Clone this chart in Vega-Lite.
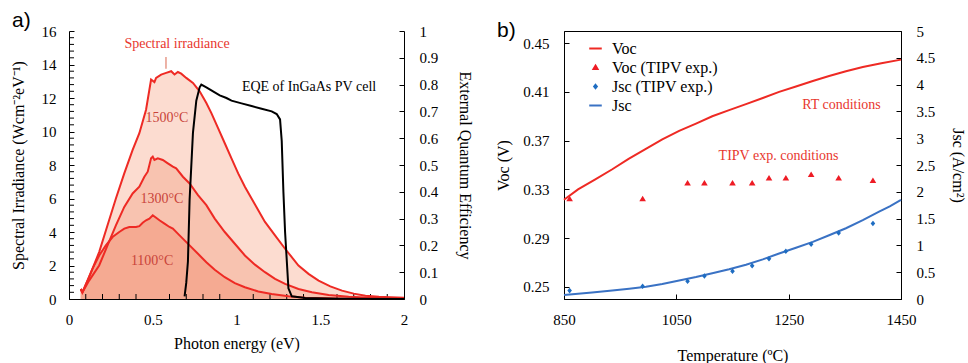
{
  "$schema": "https://vega.github.io/schema/vega-lite/v6.json",
  "padding": {"left": 10, "top": 10, "right": 0, "bottom": 0},
  "background": "white",
  "bounds": "flush",
  "spacing": 160,
  "config": {
    "font": "Liberation Serif",
    "axis": {"grid": false, "domainColor": "#000", "tickColor": "#000", "labelFont": "Liberation Serif", "titleFont": "Liberation Serif", "labelFontSize": 15, "titleFontSize": 16, "titleFontWeight": "normal", "labelColor": "#000", "titleColor": "#000", "tickSize": -5, "labelPadding": 18, "labelOverlap": false, "labelFlush": false, "labelBound": false, "zindex": 1},
    "legend": {"labelFont": "Liberation Serif"}
  },
  "datasets": {
    "irr": [
      {"T": "1500", "E": 0.07, "S": 0.6}, {"T": "1500", "E": 0.08, "S": 0.4}, {"T": "1500", "E": 0.12, "S": 1.3}, {"T": "1500", "E": 0.18, "S": 2.8}, {"T": "1500", "E": 0.23, "S": 4.4}, {"T": "1500", "E": 0.28, "S": 6.0}, {"T": "1500", "E": 0.33, "S": 7.5}, {"T": "1500", "E": 0.38, "S": 8.9}, {"T": "1500", "E": 0.42, "S": 9.9}, {"T": "1500", "E": 0.46, "S": 11.3}, {"T": "1500", "E": 0.49, "S": 13.1}, {"T": "1500", "E": 0.51, "S": 12.95}, {"T": "1500", "E": 0.52, "S": 13.2}, {"T": "1500", "E": 0.55, "S": 13.4}, {"T": "1500", "E": 0.58, "S": 13.5}, {"T": "1500", "E": 0.61, "S": 13.6}, {"T": "1500", "E": 0.63, "S": 13.4}, {"T": "1500", "E": 0.65, "S": 13.55}, {"T": "1500", "E": 0.67, "S": 13.45}, {"T": "1500", "E": 0.70, "S": 13.2}, {"T": "1500", "E": 0.74, "S": 12.9}, {"T": "1500", "E": 0.78, "S": 12.4}, {"T": "1500", "E": 0.82, "S": 11.7}, {"T": "1500", "E": 0.85, "S": 11.1}, {"T": "1500", "E": 0.89, "S": 10.2}, {"T": "1500", "E": 0.93, "S": 9.3}, {"T": "1500", "E": 0.97, "S": 8.4}, {"T": "1500", "E": 1.01, "S": 7.5}, {"T": "1500", "E": 1.05, "S": 6.7}, {"T": "1500", "E": 1.09, "S": 6.0}, {"T": "1500", "E": 1.13, "S": 5.3}, {"T": "1500", "E": 1.17, "S": 4.6}, {"T": "1500", "E": 1.23, "S": 3.8}, {"T": "1500", "E": 1.29, "S": 3.0}, {"T": "1500", "E": 1.37, "S": 2.0}, {"T": "1500", "E": 1.43, "S": 1.5}, {"T": "1500", "E": 1.49, "S": 1.1}, {"T": "1500", "E": 1.56, "S": 0.75}, {"T": "1500", "E": 1.63, "S": 0.5}, {"T": "1500", "E": 1.70, "S": 0.32}, {"T": "1500", "E": 1.77, "S": 0.2}, {"T": "1500", "E": 1.85, "S": 0.13}, {"T": "1500", "E": 1.92, "S": 0.1}, {"T": "1500", "E": 2.0, "S": 0.08},
      {"T": "1300", "E": 0.07, "S": 0.6}, {"T": "1300", "E": 0.08, "S": 0.4}, {"T": "1300", "E": 0.12, "S": 1.1}, {"T": "1300", "E": 0.18, "S": 2.0}, {"T": "1300", "E": 0.23, "S": 3.2}, {"T": "1300", "E": 0.28, "S": 4.4}, {"T": "1300", "E": 0.33, "S": 5.5}, {"T": "1300", "E": 0.38, "S": 6.3}, {"T": "1300", "E": 0.42, "S": 6.7}, {"T": "1300", "E": 0.45, "S": 7.3}, {"T": "1300", "E": 0.47, "S": 7.6}, {"T": "1300", "E": 0.49, "S": 8.4}, {"T": "1300", "E": 0.50, "S": 8.5}, {"T": "1300", "E": 0.51, "S": 8.3}, {"T": "1300", "E": 0.53, "S": 8.4}, {"T": "1300", "E": 0.56, "S": 8.3}, {"T": "1300", "E": 0.59, "S": 8.1}, {"T": "1300", "E": 0.62, "S": 7.9}, {"T": "1300", "E": 0.64, "S": 7.8}, {"T": "1300", "E": 0.68, "S": 7.3}, {"T": "1300", "E": 0.72, "S": 6.9}, {"T": "1300", "E": 0.77, "S": 6.2}, {"T": "1300", "E": 0.82, "S": 5.6}, {"T": "1300", "E": 0.87, "S": 4.8}, {"T": "1300", "E": 0.93, "S": 4.0}, {"T": "1300", "E": 0.99, "S": 3.3}, {"T": "1300", "E": 1.05, "S": 2.6}, {"T": "1300", "E": 1.11, "S": 2.05}, {"T": "1300", "E": 1.17, "S": 1.6}, {"T": "1300", "E": 1.23, "S": 1.2}, {"T": "1300", "E": 1.29, "S": 0.9}, {"T": "1300", "E": 1.37, "S": 0.6}, {"T": "1300", "E": 1.45, "S": 0.4}, {"T": "1300", "E": 1.55, "S": 0.24}, {"T": "1300", "E": 1.67, "S": 0.14}, {"T": "1300", "E": 1.8, "S": 0.07}, {"T": "1300", "E": 2.0, "S": 0.02},
      {"T": "1100", "E": 0.07, "S": 0.6}, {"T": "1100", "E": 0.08, "S": 0.4}, {"T": "1100", "E": 0.11, "S": 1.1}, {"T": "1100", "E": 0.14, "S": 1.8}, {"T": "1100", "E": 0.18, "S": 2.6}, {"T": "1100", "E": 0.22, "S": 3.2}, {"T": "1100", "E": 0.26, "S": 3.7}, {"T": "1100", "E": 0.30, "S": 4.0}, {"T": "1100", "E": 0.33, "S": 4.2}, {"T": "1100", "E": 0.36, "S": 4.3}, {"T": "1100", "E": 0.40, "S": 4.3}, {"T": "1100", "E": 0.42, "S": 4.35}, {"T": "1100", "E": 0.44, "S": 4.55}, {"T": "1100", "E": 0.46, "S": 4.7}, {"T": "1100", "E": 0.48, "S": 4.8}, {"T": "1100", "E": 0.50, "S": 5.0}, {"T": "1100", "E": 0.52, "S": 4.85}, {"T": "1100", "E": 0.54, "S": 4.7}, {"T": "1100", "E": 0.57, "S": 4.5}, {"T": "1100", "E": 0.60, "S": 4.3}, {"T": "1100", "E": 0.62, "S": 4.2}, {"T": "1100", "E": 0.66, "S": 3.8}, {"T": "1100", "E": 0.72, "S": 3.2}, {"T": "1100", "E": 0.77, "S": 2.7}, {"T": "1100", "E": 0.82, "S": 2.2}, {"T": "1100", "E": 0.87, "S": 1.75}, {"T": "1100", "E": 0.93, "S": 1.3}, {"T": "1100", "E": 0.99, "S": 0.95}, {"T": "1100", "E": 1.05, "S": 0.7}, {"T": "1100", "E": 1.13, "S": 0.45}, {"T": "1100", "E": 1.21, "S": 0.3}, {"T": "1100", "E": 1.31, "S": 0.16}, {"T": "1100", "E": 1.41, "S": 0.08}, {"T": "1100", "E": 1.55, "S": 0.04}, {"T": "1100", "E": 1.67, "S": 0.02}, {"T": "1100", "E": 1.8, "S": 0.01}
    ],
    "eqe": [
      {"E": 0.69, "Q": 0.01}, {"E": 0.70, "Q": 0.06}, {"E": 0.71, "Q": 0.14}, {"E": 0.72, "Q": 0.37}, {"E": 0.74, "Q": 0.62}, {"E": 0.76, "Q": 0.74}, {"E": 0.78, "Q": 0.79}, {"E": 0.79, "Q": 0.80}, {"E": 0.82, "Q": 0.79}, {"E": 0.86, "Q": 0.775}, {"E": 0.90, "Q": 0.76}, {"E": 0.94, "Q": 0.75}, {"E": 0.97, "Q": 0.74}, {"E": 1.03, "Q": 0.73}, {"E": 1.09, "Q": 0.72}, {"E": 1.15, "Q": 0.71}, {"E": 1.21, "Q": 0.70}, {"E": 1.24, "Q": 0.69}, {"E": 1.26, "Q": 0.67}, {"E": 1.27, "Q": 0.59}, {"E": 1.28, "Q": 0.40}, {"E": 1.29, "Q": 0.25}, {"E": 1.31, "Q": 0.04}, {"E": 1.33, "Q": 0.01}, {"E": 1.41, "Q": 0.004}, {"E": 1.6, "Q": 0.001}, {"E": 2.0, "Q": 0.0}
    ],
    "minE": [
      {"E": 0.1}, {"E": 0.2}, {"E": 0.3}, {"E": 0.4}, {"E": 0.6}, {"E": 0.7}, {"E": 0.8}, {"E": 0.9}, {"E": 1.1}, {"E": 1.2}, {"E": 1.3}, {"E": 1.4}, {"E": 1.6}, {"E": 1.7}, {"E": 1.8}, {"E": 1.9}
    ],
    "minS": [
      {"S": 0.4}, {"S": 0.8}, {"S": 1.2}, {"S": 1.6}, {"S": 2.4}, {"S": 2.8}, {"S": 3.2}, {"S": 3.6}, {"S": 4.4}, {"S": 4.8}, {"S": 5.2}, {"S": 5.6}, {"S": 6.4}, {"S": 6.8}, {"S": 7.2}, {"S": 7.6}, {"S": 8.4}, {"S": 8.8}, {"S": 9.2}, {"S": 9.6}, {"S": 10.4}, {"S": 10.8}, {"S": 11.2}, {"S": 11.6}, {"S": 12.4}, {"S": 12.8}, {"S": 13.2}, {"S": 13.6}, {"S": 14.4}, {"S": 14.8}, {"S": 15.2}, {"S": 15.6}
    ],
    "labA": [
      {"E": 0.645, "S": 15.25, "txt": "Spectral irradiance", "c": "red"},
      {"E": 0.585, "S": 10.8, "txt": "1500°C", "c": "dark"},
      {"E": 0.555, "S": 5.95, "txt": "1300°C", "c": "dark"},
      {"E": 0.496, "S": 2.26, "txt": "1100°C", "c": "dark"}
    ],
    "voc": [
      {"T": 850, "V": 0.3215}, {"T": 875, "V": 0.330}, {"T": 905, "V": 0.338}, {"T": 936, "V": 0.3465}, {"T": 965, "V": 0.355}, {"T": 995, "V": 0.363}, {"T": 1025, "V": 0.371}, {"T": 1055, "V": 0.378}, {"T": 1085, "V": 0.384}, {"T": 1114, "V": 0.390}, {"T": 1144, "V": 0.395}, {"T": 1174, "V": 0.400}, {"T": 1204, "V": 0.405}, {"T": 1233, "V": 0.410}, {"T": 1263, "V": 0.4145}, {"T": 1293, "V": 0.419}, {"T": 1322, "V": 0.423}, {"T": 1352, "V": 0.427}, {"T": 1382, "V": 0.4305}, {"T": 1415, "V": 0.4335}, {"T": 1450, "V": 0.4365}
    ],
    "jsc": [
      {"T": 850, "J": 0.075}, {"T": 900, "J": 0.12}, {"T": 936, "J": 0.157}, {"T": 966, "J": 0.19}, {"T": 996, "J": 0.23}, {"T": 1025, "J": 0.28}, {"T": 1055, "J": 0.345}, {"T": 1085, "J": 0.41}, {"T": 1114, "J": 0.48}, {"T": 1144, "J": 0.555}, {"T": 1174, "J": 0.64}, {"T": 1204, "J": 0.74}, {"T": 1233, "J": 0.85}, {"T": 1263, "J": 0.955}, {"T": 1293, "J": 1.065}, {"T": 1322, "J": 1.19}, {"T": 1352, "J": 1.32}, {"T": 1382, "J": 1.47}, {"T": 1411, "J": 1.63}, {"T": 1430, "J": 1.73}, {"T": 1450, "J": 1.85}
    ],
    "vocp": [
      {"T": 860, "V": 0.322, "series": "Voc (TIPV exp.)"}, {"T": 990, "V": 0.322, "series": "Voc (TIPV exp.)"}, {"T": 1070, "V": 0.335, "series": "Voc (TIPV exp.)"}, {"T": 1100, "V": 0.335, "series": "Voc (TIPV exp.)"}, {"T": 1150, "V": 0.335, "series": "Voc (TIPV exp.)"}, {"T": 1185, "V": 0.335, "series": "Voc (TIPV exp.)"}, {"T": 1215, "V": 0.339, "series": "Voc (TIPV exp.)"}, {"T": 1245, "V": 0.339, "series": "Voc (TIPV exp.)"}, {"T": 1290, "V": 0.342, "series": "Voc (TIPV exp.)"}, {"T": 1339, "V": 0.339, "series": "Voc (TIPV exp.)"}, {"T": 1400, "V": 0.337, "series": "Voc (TIPV exp.)"}
    ],
    "jscp": [
      {"T": 860, "J": 0.157, "series": "Jsc (TIPV exp.)"}, {"T": 990, "J": 0.238, "series": "Jsc (TIPV exp.)"}, {"T": 1070, "J": 0.33, "series": "Jsc (TIPV exp.)"}, {"T": 1100, "J": 0.43, "series": "Jsc (TIPV exp.)"}, {"T": 1150, "J": 0.52, "series": "Jsc (TIPV exp.)"}, {"T": 1185, "J": 0.62, "series": "Jsc (TIPV exp.)"}, {"T": 1215, "J": 0.75, "series": "Jsc (TIPV exp.)"}, {"T": 1245, "J": 0.89, "series": "Jsc (TIPV exp.)"}, {"T": 1290, "J": 1.02, "series": "Jsc (TIPV exp.)"}, {"T": 1339, "J": 1.23, "series": "Jsc (TIPV exp.)"}, {"T": 1400, "J": 1.41, "series": "Jsc (TIPV exp.)"}
    ],
    "labB": [
      {"T": 1344, "V": 0.399, "txt": "RT conditions"},
      {"T": 1232, "V": 0.357, "txt": "TIPV exp. conditions"}
    ]
  },
  "hconcat": [
    {
      "width": 335,
      "height": 268,
      "view": {"stroke": null},
      "title": {"text": "a)", "anchor": "start", "frame": "group", "dx": -57, "offset": -7, "font": "Liberation Sans", "fontSize": 21, "fontWeight": "normal", "color": "#000"},
      "layer": [
        {
          "layer": [
            {"data": {"name": "irr"}, "transform": [{"filter": "datum.T == '1500'"}], "mark": {"type": "area", "color": "#fcdcd0", "opacity": 1}, "encoding": {"x": {"field": "E", "type": "quantitative", "scale": {"domain": [0, 2]}, "axis": {"values": [0, 0.5, 1, 1.5, 2], "format": "~g", "title": "Photon energy (eV)", "titlePadding": 8, "labelOverlap": false}}, "y": {"field": "S", "type": "quantitative", "scale": {"domain": [0, 16]}, "axis": null}}},
            {"data": {"name": "irr"}, "transform": [{"filter": "datum.T == '1300'"}], "mark": {"type": "area", "color": "#f8c3b0", "opacity": 1}, "encoding": {"x": {"field": "E", "type": "quantitative"}, "y": {"field": "S", "type": "quantitative", "axis": null}}},
            {"data": {"name": "irr"}, "transform": [{"filter": "datum.T == '1100'"}], "mark": {"type": "area", "color": "#f5aa92", "opacity": 1}, "encoding": {"x": {"field": "E", "type": "quantitative"}, "y": {"field": "S", "type": "quantitative", "axis": null}}},
            {"data": {"name": "minE"}, "mark": {"type": "tick", "orient": "vertical", "size": 5, "thickness": 1, "color": "#000", "opacity": 1}, "encoding": {"x": {"field": "E", "type": "quantitative"}, "y": {"datum": 0.15, "type": "quantitative", "axis": null}}},
            {"data": {"name": "irr"}, "mark": {"type": "line", "color": "#ee2a24", "strokeWidth": 2}, "encoding": {"x": {"field": "E", "type": "quantitative"}, "y": {"field": "S", "type": "quantitative", "axis": null}, "detail": {"field": "T"}}},
            {"data": {"values": [{"E": 0.579, "S": 13.75, "S2": 14.45}]}, "mark": {"type": "rule", "color": "#e0806c", "strokeWidth": 1.2}, "encoding": {"x": {"field": "E", "type": "quantitative"}, "y": {"field": "S", "type": "quantitative", "axis": null}, "y2": {"field": "S2"}}},
            {"data": {"name": "labA"}, "mark": {"type": "text", "font": "Liberation Serif", "fontSize": 14}, "encoding": {"x": {"field": "E", "type": "quantitative"}, "y": {"field": "S", "type": "quantitative", "axis": null}, "text": {"field": "txt"}, "color": {"field": "c", "type": "nominal", "scale": {"domain": ["red", "dark"], "range": ["#e8372e", "#c9443a"]}, "legend": null}}},
            {"data": {"values": [{"E": 1.433, "S": 12.68, "txt": "EQE of InGaAs PV cell"}]}, "mark": {"type": "text", "font": "Liberation Serif", "fontSize": 14, "color": "#000"}, "encoding": {"x": {"field": "E", "type": "quantitative"}, "y": {"field": "S", "type": "quantitative", "axis": null}, "text": {"field": "txt"}}}
          ]
        },
        {
          "data": {"name": "eqe"},
          "mark": {"type": "line", "color": "#000", "strokeWidth": 2},
          "encoding": {"x": {"field": "E", "type": "quantitative"}, "y": {"field": "Q", "type": "quantitative", "scale": {"domain": [0, 1]}, "axis": {"orient": "right", "values": [0, 0.1, 0.2, 0.3, 0.4, 0.5, 0.6, 0.7, 0.8, 0.9, 1], "format": "~g", "labelPadding": 20, "title": "External Quantum Efficiency", "titlePadding": 19, "labelOverlap": false}}}
        },
        {
          "data": {"name": "minS"},
          "mark": {"type": "tick", "orient": "horizontal", "size": 5, "thickness": 1, "color": "#000", "opacity": 1},
          "encoding": {"x": {"datum": 0.015, "type": "quantitative"}, "y": {"field": "S", "type": "quantitative", "scale": {"domain": [0, 16]}, "axis": {"orient": "left", "values": [0, 2, 4, 6, 8, 10, 12, 14, 16], "format": "d", "labelPadding": 18, "title": "Spectral Irradiance (Wcm⁻²eV⁻¹)", "titlePadding": 15, "labelOverlap": false}}}
        }
      ],
      "resolve": {"scale": {"y": "independent"}}
    },
    {
      "width": 337,
      "height": 268,
      "view": {"stroke": "#000"},
      "title": {"text": "b)", "anchor": "start", "frame": "group", "dx": -67, "offset": -17, "font": "Liberation Sans", "fontSize": 21, "fontWeight": "normal", "color": "#000"},
      "layer": [
        {
          "layer": [
            {"data": {"name": "voc"}, "mark": {"type": "line", "color": "#ee2a24", "strokeWidth": 2}, "encoding": {"x": {"field": "T", "type": "quantitative", "scale": {"domain": [850, 1450]}, "axis": {"values": [850, 1050, 1250, 1450], "format": "d", "title": "Temperature (ºC)", "titlePadding": 20, "labelOverlap": false}}, "y": {"field": "V", "type": "quantitative", "scale": {"domain": [0.25, 0.45]}, "axis": {"values": [0.25, 0.29, 0.33, 0.37, 0.41, 0.45], "format": ".2f", "labelPadding": 20, "title": "Voc (V)", "titlePadding": 11, "labelOverlap": false}}}},
            {"data": {"name": "vocp"}, "mark": {"type": "point", "filled": true, "opacity": 1, "size": 361, "strokeWidth": 1.5}, "encoding": {"x": {"field": "T", "type": "quantitative"}, "y": {"field": "V", "type": "quantitative", "axis": {"values": [0.25, 0.29, 0.33, 0.37, 0.41, 0.45], "format": ".2f", "labelPadding": 20, "title": "Voc (V)", "titlePadding": 11, "labelOverlap": false}},
              "fill": {"field": "series", "type": "nominal", "scale": {"domain": ["Voc", "Voc (TIPV exp.)", "Jsc (TIPV exp.)", "Jsc"], "range": ["transparent", "#ee1c25", "#1f6dc2", "transparent"]}, "legend": {"title": null, "orient": "none", "legendX": 516, "legendY": 7, "padding": 0, "rowPadding": 0, "labelFontSize": 16, "labelColor": "#000", "labelOffset": 6, "symbolSize": 361, "symbolStrokeWidth": 2, "symbolOpacity": 1}},
              "stroke": {"field": "series", "type": "nominal", "scale": {"domain": ["Voc", "Voc (TIPV exp.)", "Jsc (TIPV exp.)", "Jsc"], "range": ["#ee2a24", "#ee1c25", "#1f6dc2", "#3a72c4"]}, "legend": {"title": null, "orient": "none", "legendX": 516, "legendY": 7, "padding": 0, "rowPadding": 0, "labelFontSize": 16, "labelColor": "#000", "labelOffset": 6, "symbolSize": 361, "symbolStrokeWidth": 2, "symbolOpacity": 1}},
              "shape": {"field": "series", "type": "nominal", "scale": {"domain": ["Voc", "Voc (TIPV exp.)", "Jsc (TIPV exp.)", "Jsc"], "range": ["M-0.66,0L0.66,0", "M0,-0.2L0.21,0.15L-0.21,0.15Z", "M0,-0.17L0.14,0L0,0.17L-0.14,0Z", "M-0.66,0L0.66,0"]}, "legend": {"title": null, "orient": "none", "legendX": 516, "legendY": 7, "padding": 0, "rowPadding": 0, "labelFontSize": 16, "labelColor": "#000", "labelOffset": 6, "symbolSize": 361, "symbolStrokeWidth": 2, "symbolOpacity": 1}}}},
            {"data": {"name": "labB"}, "mark": {"type": "text", "font": "Liberation Serif", "fontSize": 14, "color": "#e8372e"}, "encoding": {"x": {"field": "T", "type": "quantitative"}, "y": {"field": "V", "type": "quantitative", "axis": {"values": [0.25, 0.29, 0.33, 0.37, 0.41, 0.45], "format": ".2f", "labelPadding": 20, "title": "Voc (V)", "titlePadding": 11, "labelOverlap": false}}, "text": {"field": "txt"}}}
          ]
        },
        {
          "layer": [
            {"data": {"name": "jsc"}, "mark": {"type": "line", "color": "#3a72c4", "strokeWidth": 2}, "encoding": {"x": {"field": "T", "type": "quantitative"}, "y": {"field": "J", "type": "quantitative", "scale": {"domain": [0, 5]}, "axis": {"orient": "right", "values": [0, 0.5, 1, 1.5, 2, 2.5, 3, 3.5, 4, 4.5, 5], "format": "~g", "labelPadding": 20, "title": "Jsc (A/cm²)", "titlePadding": 15, "labelOverlap": false}}}},
            {"data": {"name": "jscp"}, "mark": {"type": "point", "filled": true, "opacity": 1, "size": 361, "strokeWidth": 1.5}, "encoding": {"x": {"field": "T", "type": "quantitative"}, "y": {"field": "J", "type": "quantitative", "axis": {"orient": "right", "values": [0, 0.5, 1, 1.5, 2, 2.5, 3, 3.5, 4, 4.5, 5], "format": "~g", "labelPadding": 20, "title": "Jsc (A/cm²)", "titlePadding": 15, "labelOverlap": false}}, "fill": {"field": "series", "type": "nominal"}, "stroke": {"field": "series", "type": "nominal"}, "shape": {"field": "series", "type": "nominal"}}}
          ]
        }
      ],
      "resolve": {"scale": {"y": "independent"}}
    }
  ]
}
